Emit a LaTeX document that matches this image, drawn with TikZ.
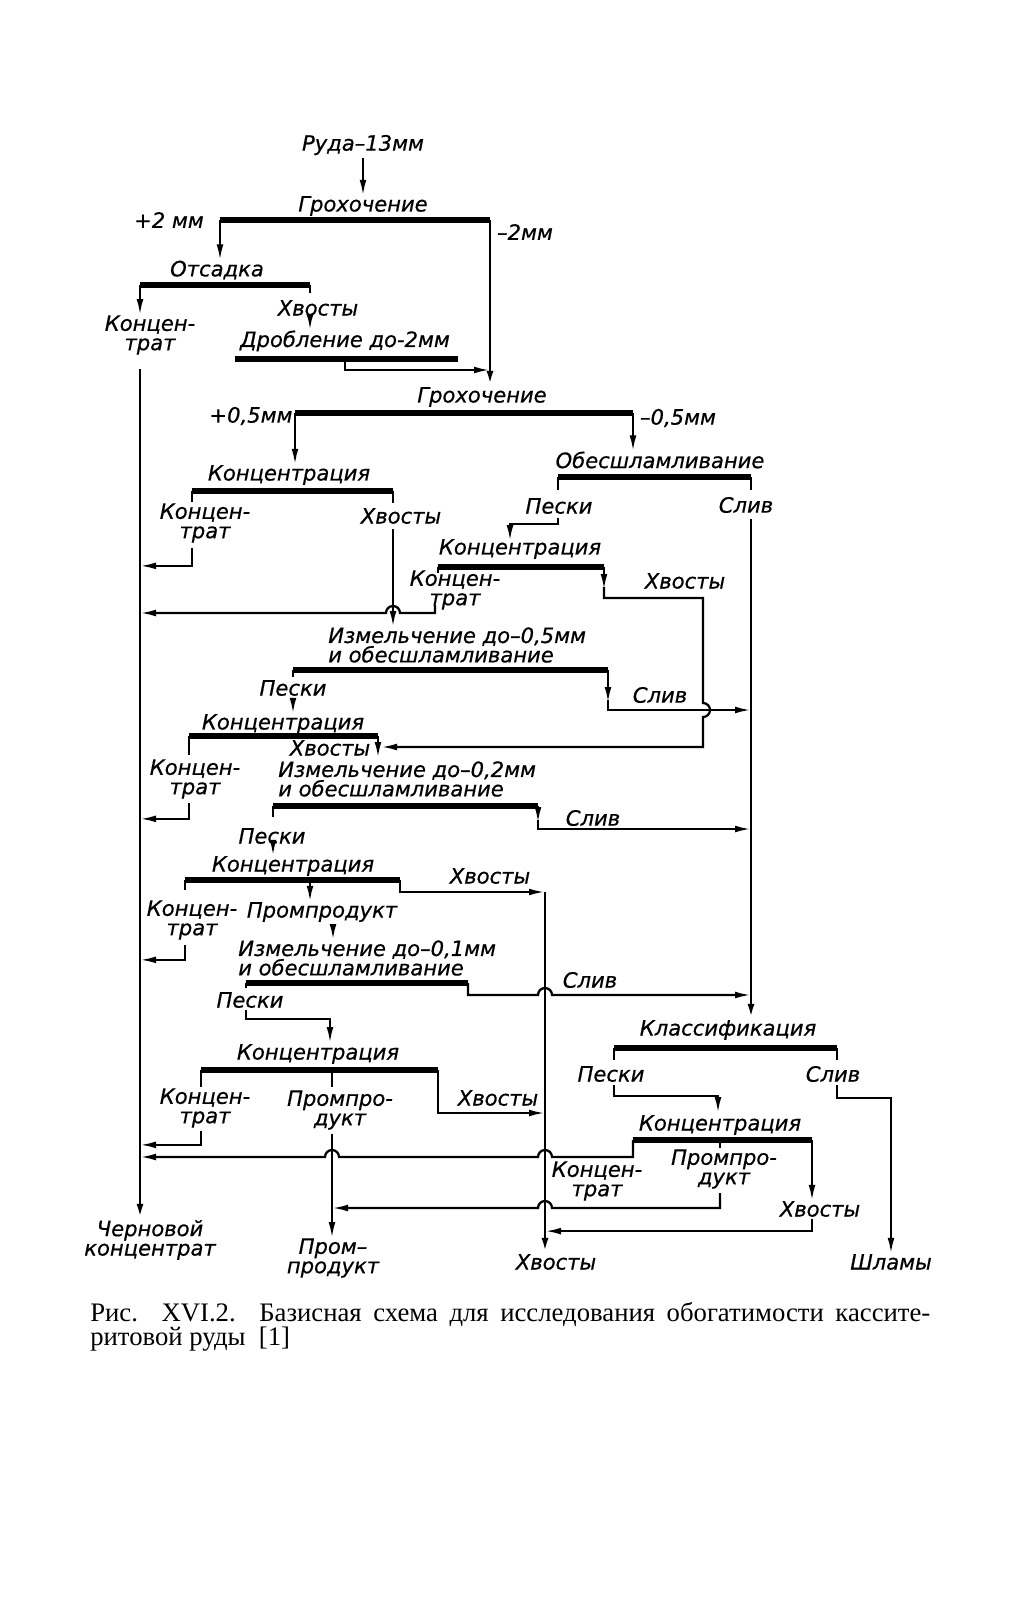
\documentclass[tikz,border=0pt]{standalone}
\usepackage{fontspec}
\newfontfamily\gostfont{DejaVu Sans}[ItalicFeatures={FakeBold=0.6}]
\newfontfamily\capfont{Liberation Serif}
\usetikzlibrary{arrows.meta}

\tikzset{
  lbl/.style={font=\gostfont\itshape\fontsize{15}{13.8}\selectfont, inner sep=0pt, align=center},
  bar/.style={line width=4pt},
  flow/.style={line width=1.6pt},
  main/.style={line width=2.1pt},
  arr/.style={flow, -{Latex[length=4mm,width=1.7mm]}},
}

\begin{document}
\begin{tikzpicture}[x=0.25mm,y=0.25mm]
\useasboundingbox (0,0) rectangle (1022,-1600);

% labels
\node[lbl] (ruda) at (363,-145) {Руда–13мм};
\node[lbl] (grokh1) at (363,-206) {Грохочение};
\node[lbl] (pl2) at (169,-220) {+2 мм};
\node[lbl] (mn2) at (525,-232) {–2мм};
\node[lbl] (otsad) at (217,-270) {Отсадка};
\node[lbl] (otsadK) at (150,-335) {Концен-\\трат};
\node[lbl] (otsadT) at (318,-308) {Хвосты};
\node[lbl] (drob) at (345,-341) {Дробление до-2мм};
\node[lbl] (grokh2) at (482,-397) {Грохочение};
\node[lbl] (pl05) at (251,-416) {+0,5мм};
\node[lbl] (mn05) at (678,-418) {–0,5мм};
\node[lbl] (konc1) at (289,-475) {Концентрация};
\node[lbl] (konc1K) at (205,-523) {Концен-\\трат};
\node[lbl] (konc1T) at (401,-516) {Хвосты};
\node[lbl] (obes) at (660,-460) {Обесшламливание};
\node[lbl] (obesP) at (559,-506) {Пески};
\node[lbl] (obesS) at (746,-505) {Слив};
\node[lbl] (konc2) at (520,-549) {Концентрация};
\node[lbl] (konc2K) at (455,-590) {Концен-\\трат};
\node[lbl] (konc2T) at (685,-581) {Хвосты};
\node[lbl,align=left,anchor=west] (izm1) at (328,-645) {Измельчение до–0,5мм\\и обесшламливание};
\node[lbl] (izm1P) at (293,-688) {Пески};
\node[lbl] (izm1S) at (660,-695) {Слив};
\node[lbl] (konc3) at (283,-724) {Концентрация};
\node[lbl] (konc3K) at (195,-779) {Концен-\\трат};
\node[lbl] (konc3T) at (330,-748) {Хвосты};
\node[lbl,align=left,anchor=west] (izm2) at (278,-779) {Измельчение до–0,2мм\\и обесшламливание};
\node[lbl] (izm2S) at (593,-818) {Слив};
\node[lbl] (izm2P) at (272,-836) {Пески};
\node[lbl] (konc4) at (293,-866) {Концентрация};
\node[lbl] (konc4T) at (490,-876) {Хвосты};
\node[lbl] (konc4K) at (192,-920) {Концен-\\трат};
\node[lbl] (prom1) at (322,-912) {Промпродукт};
\node[lbl,align=left,anchor=west] (izm3) at (238,-958) {Измельчение до–0,1мм\\и обесшламливание};
\node[lbl] (izm3S) at (590,-980) {Слив};
\node[lbl] (izm3P) at (250,-1000) {Пески};
\node[lbl] (konc5) at (318,-1054) {Концентрация};
\node[lbl] (konc5K) at (205,-1108) {Концен-\\трат};
\node[lbl] (prom2) at (340,-1110) {Промпро-\\дукт};
\node[lbl] (konc5T) at (498,-1098) {Хвосты};
\node[lbl] (klass) at (728,-1030) {Классификация};
\node[lbl] (klassP) at (611,-1074) {Пески};
\node[lbl] (klassS) at (833,-1074) {Слив};
\node[lbl] (konc6) at (720,-1125) {Концентрация};
\node[lbl] (konc6K) at (597,-1181) {Концен-\\трат};
\node[lbl] (konc6P) at (724,-1169) {Промпро-\\дукт};
\node[lbl] (konc6T) at (820,-1209) {Хвосты};
\node[lbl] (chern) at (150,-1240) {Черновой\\концентрат};
\node[lbl] (promEnd) at (333,-1258) {Пром–\\продукт};
\node[lbl] (hvEnd) at (556,-1262) {Хвосты};
\node[lbl] (shlamy) at (891,-1262) {Шламы};

% collecting lines
\coordinate (mx) at (140,0);
\coordinate (sx) at (751,0);
\coordinate (tx) at (545,0);

% Грохочение 1
\coordinate (b1l) at (220,-220);
\coordinate (b1r) at (490,-220);
\draw[arr,shorten <=2pt] (ruda) -- (grokh1);
\draw[bar] (b1l) -- (b1r);
\draw[arr] (b1l) -- (b1l |- otsad.north);
\draw[arr,main] (b1r) -- (b1r |- grokh2.north);

% Отсадка
\coordinate (b2l) at (140,-285);
\coordinate (b2r) at (310,-285);
\draw[bar] (b2l) -- (b2r);
\draw[arr] (b2l) -- (b2l |- otsadK.north);
\draw[flow] (b2r) -- ++(0,-8);
\draw[arr] (otsadT.south -| b2r) -- (b2r |- drob.north);

% Дробление
\coordinate (b3l) at (235,-359);
\coordinate (b3m) at (345,-359);
\coordinate (b3r) at (458,-359);
\draw[bar] (b3l) -- (b3r);
\draw[arr] (b3m) -- ++(0,-11) coordinate (c) -- (c -| b1r);

% черновой концентрат
\draw[arr,main] (otsadK.south -| mx) ++(0,-14) -- (mx |- chern.north);

% Грохочение 2
\coordinate (b4l) at (295,-413);
\coordinate (b4r) at (633,-413);
\draw[bar] (b4l) -- (b4r);
\draw[arr] (b4l) -- (b4l |- konc1.north);
\draw[arr] (b4r) -- (b4r |- obes.north);

% Концентрация 1
\coordinate (b5l) at (192,-491);
\coordinate (b5r) at (393,-491);
\draw[bar] (b5l) -- (b5r);
\draw[flow] (b5l) -- ++(0,-11);
\draw[flow] (b5r) -- ++(0,-12);
\draw[arr] (konc1K.south -| b5l) ++(0,-5) -- ++(0,-18) coordinate (c) -- (c -| mx);
\draw[arr] (konc1T.south -| b5r) ++(0,-5) -- (b5r |- izm1.north);

% Обесшламливание
\coordinate (b6l) at (558,-477);
\coordinate (b6r) at (751,-477);
\draw[bar] (b6l) -- (b6r);
\draw[flow] (b6l) -- ++(0,-13);
\draw[flow] (b6r) -- ++(0,-13);
\draw[arr] (obesP.south -| b6l) ++(0,-4) -- ++(0,-6) -- ++(-48,0) -- ++(0,-17);
\draw[arr,main] (obesS.south -| b6r) ++(0,-6) -- (b6r |- klass.north);

% Концентрация 2
\coordinate (b7l) at (438,-567);
\coordinate (b7r) at (604,-567);
\draw[bar] (b7l) -- (b7r);
\draw[flow] (b7l) -- ++(0,-6);
\draw[arr] (b7r) -- ++(0,-23);
\draw[arr] (b7r) ++(0,-20) -- ++(0,-11) -- (703,-598) -- (703,-703) arc(90:-90:7) -- (703,-747) -- (381,-747);
\draw[arr] (435,-605) -- (435,-613) -- (400,-613) arc(0:180:7) coordinate (c) -- (c -| mx);

% Измельчение до -0,5 мм
\coordinate (b8l) at (293,-670);
\coordinate (b8r) at (608,-670);
\draw[bar] (b8l) -- (b8r);
\draw[flow] (b8l) -- ++(0,-7);
\draw[arr] (b8r) -- ++(0,-33);
\draw[arr] (b8r) ++(0,-30) -- ++(0,-10) coordinate (c) -- (c -| sx);
\draw[arr] (izm1P.south -| b8l) ++(0,-3) -- (b8l |- konc3.north);

% Концентрация 3
\coordinate (b9l) at (189,-736);
\coordinate (b9r) at (378,-736);
\draw[bar] (b9l) -- (b9r);
\draw[flow] (b9l) -- ++(0,-19);
\draw[arr] (b9r) -- ++(0,-22);
\draw[arr] (konc3K.south -| b9l) ++(0,-4) -- ++(0,-16) coordinate (c) -- (c -| mx);

% Измельчение до -0,2 мм
\coordinate (b10l) at (273,-806);
\coordinate (b10r) at (538,-806);
\draw[bar] (b10l) -- (b10r);
\draw[flow] (b10l) -- ++(0,-11);
\draw[arr] (b10r) -- ++(0,-17);
\draw[arr] (b10r) ++(0,-14) -- ++(0,-9) coordinate (c) -- (c -| sx);
\draw[arr] (izm2P.south -| b10l) ++(0,-3) -- (b10l |- konc4.north);

% Концентрация 4
\coordinate (b11l) at (185,-880);
\coordinate (b11m) at (310,-880);
\coordinate (b11r) at (400,-880);
\draw[bar] (b11l) -- (b11r);
\draw[flow] (b11l) -- ++(0,-10);
\draw[arr] (b11m) -- (b11m |- prom1.north);
\draw[arr] (b11r) -- ++(0,-12) coordinate (c) -- (c -| tx);
\draw[arr,main] (tx |- b11r) ++(0,-12) -- (tx |- hvEnd.north);
\draw[arr] (konc4K.south -| b11l) ++(0,-5) -- ++(0,-15) coordinate (c) -- (c -| mx);
\coordinate (p1) at (333,-925);
\draw[arr] (p1) -- (p1 |- izm3.north);

% Измельчение до -0,1 мм
\coordinate (b12l) at (246,-983);
\coordinate (b12r) at (468,-983);
\draw[bar] (b12l) -- (b12r);
\draw[flow] (b12l) -- ++(0,-5);
\draw[arr] (b12r) -- ++(0,-12) -- (538,-995) arc(180:0:7) coordinate (c) -- (c -| sx);
\draw[arr] (izm3P.south -| b12l) ++(0,-2) -- ++(0,-9) -- ++(84,0) -- ++(0,-24);

% Концентрация 5
\coordinate (b13l) at (201,-1070);
\coordinate (b13m) at (332,-1070);
\coordinate (b13r) at (438,-1070);
\draw[bar] (b13l) -- (b13r);
\draw[flow] (b13l) -- ++(0,-17);
\draw[flow] (b13m) -- ++(0,-17);
\draw[arr] (b13r) -- ++(0,-43) coordinate (c) -- (c -| tx);
\draw[arr] (konc5K.south -| b13l) ++(0,-3) -- ++(0,-14) coordinate (c) -- (c -| mx);
\draw[arr] (prom2.south -| b13m) ++(0,-4) -- (b13m |- promEnd.north);

% Классификация
\coordinate (b14l) at (614,-1048);
\coordinate (b14r) at (837,-1048);
\draw[bar] (b14l) -- (b14r);
\draw[flow] (b14l) -- ++(0,-12);
\draw[flow] (b14r) -- ++(0,-12);
\draw[arr] (klassP.south -| b14l) ++(0,-3) -- ++(0,-11) -- ++(104,0) -- ++(0,-17);
\draw[arr] (klassS.south -| b14r) ++(0,-3) -- ++(0,-13) coordinate (c) -- (c -| shlamy) -- (shlamy.north);

% Концентрация 6
\coordinate (b15l) at (633,-1140);
\coordinate (b15m) at (720,-1140);
\coordinate (b15r) at (812,-1140);
\draw[bar] (b15l) -- (b15r);
\draw[flow] (b15m) -- ++(0,-8);
\draw[arr] (b15l) -- ++(0,-17) -- (552,-1157) arc(0:180:7) -- (339,-1157) arc(0:180:7) coordinate (c) -- (c -| mx);
\draw[arr] (b15r) -- (b15r |- konc6T.north);
\draw[arr] (720,-1193) -- (720,-1208) -- (552,-1208) arc(0:180:7) coordinate (c) -- (c -| b13m);
\draw[arr] (konc6T.south -| b15r) ++(0,-2) -- ++(0,-12) coordinate (c) -- (c -| tx);

% подпись
\node[anchor=north west, inner sep=0pt, align=left, font=\capfont\fontsize{19}{17}\selectfont] (cap) at (90,-1302)
  {\makebox[210mm][s]{Рис. XVI.2. Базисная схема для исследования обогатимости кассите-}\\ритовой руды\ \ [1]};

\end{tikzpicture}
\end{document}
